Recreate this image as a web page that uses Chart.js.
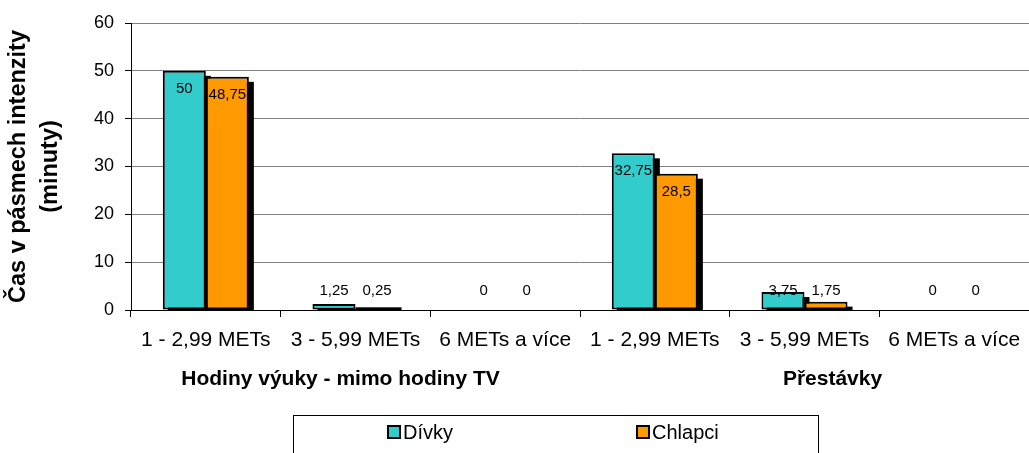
<!DOCTYPE html>
<html>
<head>
<meta charset="utf-8">
<script src="https://cdn.jsdelivr.net/npm/chart.js@4/dist/chart.umd.min.js"></script>
<style>
  html, body { margin: 0; padding: 0; background: #fff; }
  #wrap { width: 1029px; height: 453px; }
</style>
</head>
<body>
<div id="wrap"><canvas id="c" width="1029" height="453"></canvas></div>
<script>
// Categories (intensity bands) and their two parent groups
const categories = ['1 - 2,99 METs', '3 - 5,99 METs', '6 METs a více',
                    '1 - 2,99 METs', '3 - 5,99 METs', '6 METs a více'];
const groups = ['Hodiny výuky - mimo hodiny TV', 'Přestávky'];
const groupSpans = [[0, 2], [3, 5]];

// Minutes spent in each band
const divky   = [50, 1.25, 0, 32.75, 3.75, 0];
const chlapci = [48.75, 0.25, 0, 28.5, 1.75, 0];

const seriesNames = ['Dívky', 'Chlapci'];
const yMin = 0, yMax = 60, yStep = 10;
const yTitle = ['Čas v pásmech intenzity', '(minuty)'];

const FONT = "'Liberation Sans', Arial, sans-serif";
const CYAN = '#33CCCC';
const ORANGE = '#FF9900';

function fmt(v) { return String(v).replace('.', ','); }

// Drop shadow behind each bar (offset to the lower right)
const shadowPlugin = {
  id: 'barShadow',
  beforeDatasetsDraw(chart) {
    const ctx = chart.ctx;
    const base = chart.scales.y.getPixelForValue(0);
    ctx.save();
    ctx.fillStyle = '#000';
    chart.data.datasets.forEach((ds, di) => {
      chart.getDatasetMeta(di).data.forEach(bar => {
        const w = bar.width;
        const top = bar.y + 5;
        if (top >= base) return;
        ctx.fillRect(bar.x - w / 2 + 5, top, w, base - top);
      });
    });
    ctx.restore();
  }
};

// Value labels, legend box, category/group labels and axis title
const decorPlugin = {
  id: 'decor',
  afterDatasetsDraw(chart) {
    const ctx = chart.ctx;
    const base = chart.scales.y.getPixelForValue(0);
    ctx.save();
    // very flat bars: outline collapses into a solid dark strip
    ctx.fillStyle = '#000';
    chart.data.datasets.forEach((ds, di) => {
      chart.getDatasetMeta(di).data.forEach((bar, i) => {
        if (ds.data[i] > 0 && base - bar.y < 4) {
          ctx.fillRect(bar.x - bar.width / 2, bar.y - 1.5, bar.width + 3, base - bar.y + 1.5);
        }
      });
    });
    ctx.font = '15px ' + FONT;
    ctx.textAlign = 'center';
    ctx.textBaseline = 'middle';
    chart.data.datasets.forEach((ds, di) => {
      chart.getDatasetMeta(di).data.forEach((bar, i) => {
        const y = Math.min(bar.y + 18, base - 19);
        ctx.fillText(fmt(ds.data[i]), bar.x, y);
      });
    });
    ctx.restore();
  },
  afterDraw(chart) {
    const ctx = chart.ctx;
    const xs = chart.scales.x;
    ctx.save();
    ctx.fillStyle = '#000';

    // category labels
    ctx.font = '21px ' + FONT;
    ctx.textAlign = 'center';
    ctx.textBaseline = 'middle';
    categories.forEach((c, i) => {
      ctx.fillText(c, xs.getPixelForValue(i), 340);
    });

    // group labels
    ctx.font = 'bold 21px ' + FONT;
    const gx = [
      (xs.getPixelForValue(groupSpans[0][0]) + xs.getPixelForValue(groupSpans[0][1])) / 2 - 15,
      (xs.getPixelForValue(groupSpans[1][0]) + xs.getPixelForValue(groupSpans[1][1])) / 2 + 28
    ];
    groups.forEach((g, i) => ctx.fillText(g, gx[i], 379));

    // y axis title (two lines, rotated)
    const cy = (chart.chartArea.top + chart.chartArea.bottom) / 2;
    ctx.font = 'bold 23.5px ' + FONT;
    ctx.textBaseline = 'alphabetic';
    [[yTitle[0], 25], [yTitle[1], 57]].forEach(([t, x]) => {
      ctx.save();
      ctx.translate(x, cy);
      ctx.rotate(-Math.PI / 2);
      ctx.fillText(t, 0, 0);
      ctx.restore();
    });

    // legend
    ctx.strokeStyle = '#000';
    ctx.lineWidth = 1;
    ctx.strokeRect(293.5, 415.5, 525, 50);
    const items = [
      { name: seriesNames[0], color: chart.data.datasets[0].backgroundColor, x: 387 },
      { name: seriesNames[1], color: chart.data.datasets[1].backgroundColor, x: 636 }
    ];
    ctx.font = '20px ' + FONT;
    ctx.textAlign = 'left';
    ctx.textBaseline = 'middle';
    items.forEach(it => {
      ctx.fillStyle = '#000';
      ctx.fillRect(it.x, 425, 14, 14);
      ctx.fillStyle = it.color;
      ctx.fillRect(it.x + 2, 427, 10, 10);
      ctx.fillStyle = '#000';
      ctx.fillText(it.name, it.x + 16, 433);
    });
    ctx.restore();
  }
};

new Chart(document.getElementById('c'), {
  type: 'bar',
  data: {
    labels: categories,
    datasets: [
      { label: seriesNames[0], data: divky, backgroundColor: CYAN,
        borderColor: '#000', borderWidth: 2, borderSkipped: false },
      { label: seriesNames[1], data: chlapci, backgroundColor: ORANGE,
        borderColor: '#000', borderWidth: 2, borderSkipped: false }
    ]
  },
  options: {
    responsive: false,
    animation: false,
    devicePixelRatio: 1,
    layout: { padding: { top: 23, left: 0, right: 0, bottom: 0 } },
    datasets: { bar: { categoryPercentage: 0.575, barPercentage: 1.0 } },
    plugins: {
      legend: { display: false },
      tooltip: { enabled: false }
    },
    scales: {
      x: {
        afterFit(scale) { scale.height = 143; },
        ticks: { display: false },
        grid: { offset: true, drawOnChartArea: false, drawTicks: true,
                tickLength: 7, tickColor: '#000' },
        border: { display: true, color: '#000', width: 1 }
      },
      y: {
        min: yMin, max: yMax,
        afterFit(scale) { scale.width = 131; },
        ticks: { stepSize: yStep, color: '#000', padding: 11,
                 font: { family: FONT, size: 18 } },
        grid: { color: '#808080', lineWidth: 1, tickLength: 6, tickColor: '#000' },
        border: { display: true, color: '#000', width: 1 }
      }
    }
  },
  plugins: [shadowPlugin, decorPlugin]
});
</script>
</body>
</html>
